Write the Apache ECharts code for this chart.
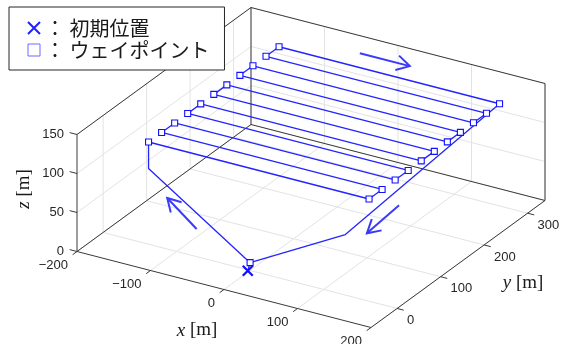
<!DOCTYPE html>
<html>
<head>
<meta charset="utf-8">
<script src="https://cdn.jsdelivr.net/npm/echarts@6/dist/echarts.min.js"></script>
<style>
  html, body { margin: 0; padding: 0; background: #fff; }
  #chart { width: 562px; height: 344px; }
</style>
</head>
<body>
<div id="chart"></div>
<script>
// 軸の範囲と目盛り
const xLim = [-200, 200];
const yLim = [-60, 340];
const zLim = [0, 150];
const xTicks = [-200, -100, 0, 100, 200];
const yTicks = [0, 100, 200, 300];
const zTicks = [0, 50, 100, 150];

// 初期位置 [x, y, z]
const initPos = [-2, -2, 0];

// ウェイポイント
const wpX = [0, -150, 150, 150, -150, -150, 150, 150, -150, -150, 150, 150, -150, -150, 150, 150, -150, -150, 150, 150, -150, -150, 150];
const wpY = [0, 20, 20, 50, 50, 80, 80, 110, 110, 140, 140, 170, 170, 200, 200, 230, 230, 260, 260, 290, 290, 320, 320];
const wpZ = [10, 120, 120, 120, 120, 120, 120, 120, 120, 120, 120, 120, 120, 120, 120, 120, 120, 120, 120, 120, 120, 120, 120];

// 飛行経路
const pathX = [-2, 0, -150, -150, 150, 150, -150, -150, 150, 150, -150, -150, 150, 150, -150, -150, 150, 150, -150, -150, 150, 150, -150, -150, 150, 100, 0];
const pathY = [-2, 0, 20, 20, 20, 50, 50, 80, 80, 110, 110, 140, 140, 170, 170, 200, 200, 230, 230, 260, 260, 290, 290, 320, 320, 50, 0];
const pathZ = [0, 10, 86, 120, 120, 120, 120, 120, 120, 120, 120, 120, 120, 120, 120, 120, 120, 120, 120, 120, 120, 120, 120, 120, 120, 50, 10];

// 進行方向の矢印（始点・終点）
const arrowFrom = [[-46, 330, 133], [-55, -30, 52], [150, 89, 84]];
const arrowTo = [[22, 330, 133], [-95, -30, 82], [150, 15, 78]];

// 3次元の箱を画面に投影する（箱の角の位置と各軸方向の長さ）
const W = 562, H = 344;
const origin = [77, 251.5];
const ex = [294, 76], ey = [174, -127], ez = [0, -117];

function proj(x, y, z) {
  const u = (x - xLim[0]) / (xLim[1] - xLim[0]);
  const v = (y - yLim[0]) / (yLim[1] - yLim[0]);
  const w = (z - zLim[0]) / (zLim[1] - zLim[0]);
  return [
    origin[0] + u * ex[0] + v * ey[0] + w * ez[0],
    origin[1] + u * ex[1] + v * ey[1] + w * ez[1]
  ];
}
function seg(a, b) {
  const p = proj(a[0], a[1], a[2]), q = proj(b[0], b[1], b[2]);
  return [p[0], p[1], q[0], q[1]];
}

const [x0, x1] = xLim, [y0, y1] = yLim, [z0, z1] = zLim;

// グリッド線（奥の3面）
const gridSegs = [];
xTicks.forEach(x => {
  gridSegs.push(seg([x, y0, z0], [x, y1, z0]));
  gridSegs.push(seg([x, y1, z0], [x, y1, z1]));
});
yTicks.forEach(y => {
  gridSegs.push(seg([x0, y, z0], [x1, y, z0]));
  gridSegs.push(seg([x0, y, z0], [x0, y, z1]));
});
zTicks.forEach(z => {
  gridSegs.push(seg([x0, y1, z], [x1, y1, z]));
  gridSegs.push(seg([x0, y0, z], [x0, y1, z]));
});

// 箱の枠と目盛り線
const boxSegs = [
  seg([x0, y0, z0], [x0, y0, z1]),
  seg([x0, y0, z1], [x0, y1, z1]),
  seg([x0, y1, z0], [x0, y1, z1]),
  seg([x0, y1, z1], [x1, y1, z1]),
  seg([x1, y1, z0], [x1, y1, z1]),
  seg([x0, y0, z0], [x1, y0, z0]),
  seg([x1, y0, z0], [x1, y1, z0]),
  seg([x0, y0, z0], [x0, y1, z0]),
  seg([x0, y1, z0], [x1, y1, z0])
];
xTicks.forEach(x => boxSegs.push(seg([x, y0, z0], [x, y0 - 10, z0])));
yTicks.forEach(y => boxSegs.push(seg([x1, y, z0], [x1 + 9, y, z0])));
zTicks.forEach(z => boxSegs.push(seg([x0, y0, z], [x0 - 10, y0, z])));

// 目盛りラベル
const fmt = v => (v < 0 ? '\u2212' + Math.abs(v) : String(v));
const labels = [];
xTicks.forEach(x => labels.push({ p: proj(x, y0, z0), dx: -9, dy: 14, text: fmt(x), align: 'right' }));
yTicks.forEach(y => labels.push({ p: proj(x1, y, z0), dx: 10, dy: 12, text: fmt(y), align: 'left' }));
zTicks.forEach(z => labels.push({ p: proj(x0, y0, z), dx: -13, dy: 0, text: fmt(z), align: 'right' }));

// 軸ラベル
const titles = [
  { p: proj(0, y0, z0), dx: -27, dy: 41, rot: 0, text: '{i|x} [m]' },
  { p: proj(x1, (y0 + y1) / 2, z0), dx: 65, dy: 19, rot: 0, text: '{i|y} [m]' },
  { p: proj(x0, y0, (z0 + z1) / 2), dx: -53, dy: -4, rot: Math.PI / 2, text: '{i|z} [m]' }
];

const blue = '#2424ff';

function lineItem(color, width) {
  return function (params, api) {
    const a = api.coord([api.value(0), api.value(1)]);
    const b = api.coord([api.value(2), api.value(3)]);
    return {
      type: 'line',
      shape: { x1: a[0], y1: a[1], x2: b[0], y2: b[1] },
      style: { stroke: color, lineWidth: width }
    };
  };
}

const chart = echarts.init(document.getElementById('chart'), null, { renderer: 'canvas' });

chart.setOption({
  animation: false,
  backgroundColor: '#fff',
  grid: { left: 0, right: 0, top: 0, bottom: 0 },
  xAxis: { type: 'value', min: 0, max: W, show: false },
  yAxis: { type: 'value', min: 0, max: H, inverse: true, show: false },
  legend: {
    left: 9,
    top: 7,
    orient: 'vertical',
    selectedMode: false,
    padding: [10, 15, 9, 18],
    itemWidth: 12,
    itemHeight: 12,
    itemGap: 0,
    borderColor: '#262626',
    borderWidth: 1,
    backgroundColor: '#fff',
    textStyle: { fontFamily: 'Noto Sans CJK JP', fontSize: 20, lineHeight: 22, color: '#1a1a1a' },
    formatter: name => '： ' + name,
    data: [
      {
        name: '初期位置',
        icon: 'path://M0,0L10,10M10,0L0,10',
        itemStyle: { color: 'transparent', borderColor: '#2020ff', borderWidth: 2 }
      },
      {
        name: 'ウェイポイント',
        icon: 'rect',
        itemStyle: { color: '#fff', borderColor: '#6a6aff', borderWidth: 1 }
      }
    ]
  },
  series: [
    {
      type: 'custom',
      silent: true,
      clip: false,
      z: 1,
      renderItem: lineItem('#e3e3e3', 1),
      data: gridSegs
    },
    {
      type: 'custom',
      silent: true,
      clip: false,
      z: 2,
      renderItem: lineItem('#3a3a3a', 1),
      data: boxSegs
    },
    {
      name: '飛行経路',
      type: 'line',
      silent: true,
      z: 3,
      symbol: 'none',
      lineStyle: { color: blue, width: 1.3 },
      data: pathX.map((x, i) => proj(x, pathY[i], pathZ[i]))
    },
    {
      name: 'ウェイポイント',
      type: 'scatter',
      silent: true,
      z: 4,
      symbol: 'rect',
      symbolSize: 6,
      itemStyle: { color: '#fff', borderColor: '#1010ff', borderWidth: 1.1, opacity: 1 },
      data: wpX.map((x, i) => proj(x, wpY[i], wpZ[i]))
    },
    {
      name: '初期位置',
      type: 'scatter',
      silent: true,
      z: 5,
      symbol: 'path://M0,0L10,10M10,0L0,10',
      symbolSize: 10,
      itemStyle: { color: 'transparent', borderColor: '#1010ff', borderWidth: 2.2, opacity: 1 },
      data: [proj(initPos[0], initPos[1], initPos[2])]
    },
    {
      type: 'custom',
      silent: true,
      clip: false,
      z: 6,
      data: arrowFrom.map((a, i) => seg(a, arrowTo[i])),
      renderItem: function (params, api) {
        const a = api.coord([api.value(0), api.value(1)]);
        const b = api.coord([api.value(2), api.value(3)]);
        const ang = Math.atan2(b[1] - a[1], b[0] - a[0]);
        const len = 15, spread = 0.52;
        const h1 = [b[0] - len * Math.cos(ang - spread), b[1] - len * Math.sin(ang - spread)];
        const h2 = [b[0] - len * Math.cos(ang + spread), b[1] - len * Math.sin(ang + spread)];
        const st = { stroke: '#3a3aff', lineWidth: 2, fill: 'none', lineJoin: 'miter' };
        return {
          type: 'group',
          children: [
            { type: 'line', shape: { x1: a[0], y1: a[1], x2: b[0], y2: b[1] }, style: st },
            { type: 'polyline', shape: { points: [h1, b, h2] }, style: st }
          ]
        };
      }
    },
    {
      type: 'custom',
      silent: true,
      clip: false,
      z: 7,
      data: labels.map(l => l.p),
      renderItem: function (params, api) {
        const l = labels[params.dataIndex];
        const c = api.coord([api.value(0), api.value(1)]);
        return {
          type: 'text',
          x: c[0] + l.dx,
          y: c[1] + l.dy,
          style: {
            text: l.text,
            fill: '#262626',
            font: '13px "Liberation Sans", Arial, sans-serif',
            align: l.align,
            verticalAlign: 'middle',
            textAlign: l.align,
            textVerticalAlign: 'middle'
          }
        };
      }
    },
    {
      type: 'custom',
      silent: true,
      clip: false,
      z: 7,
      data: titles.map(t => t.p),
      renderItem: function (params, api) {
        const t = titles[params.dataIndex];
        const c = api.coord([api.value(0), api.value(1)]);
        return {
          type: 'text',
          x: c[0] + t.dx,
          y: c[1] + t.dy,
          rotation: t.rot,
          style: {
            text: t.text,
            fill: '#1a1a1a',
            font: '19px "Liberation Serif", "Times New Roman", serif',
            align: 'center',
            verticalAlign: 'middle',
            textAlign: 'center',
            textVerticalAlign: 'middle',
            rich: {
              i: { fontStyle: 'italic', fontFamily: '"Liberation Serif", serif', fontSize: 19, fill: '#1a1a1a' }
            }
          }
        };
      }
    }
  ]
});
</script>
</body>
</html>
